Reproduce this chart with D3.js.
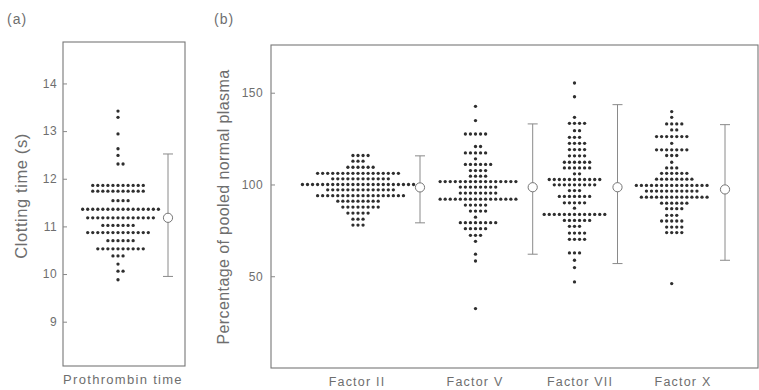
<!DOCTYPE html>
<html>
<head>
<meta charset="utf-8">
<script src="https://cdn.jsdelivr.net/npm/d3@7"></script>
<style>
  html, body { margin: 0; padding: 0; background: #fff; }
  svg { display: block; }
  text { font-family: "Liberation Sans", Arial, sans-serif; fill: #6e6e6e; }
</style>
</head>
<body>
<svg id="chart" width="759" height="390"></svg>
<script>
// ---------------- DATA ----------------
// Panel (a): prothrombin time (s), row values and number of dots per row
const ptValues = [13.42, 13.29, 12.94, 12.63, 12.49, 12.31, 11.86, 11.74, 11.54, 11.36, 11.18, 11.02, 10.87, 10.70, 10.53, 10.38, 10.21, 10.06, 9.88];
const ptCounts = [1, 1, 1, 1, 1, 2, 11, 11, 4, 16, 14, 7, 13, 6, 10, 3, 1, 2, 1];
const ptMean = 11.18, ptLow = 9.95, ptHigh = 12.52;
const ptTicks = [9, 10, 11, 12, 13, 14];

// Panel (b): percentage of pooled normal plasma
const categories = ["Factor II", "Factor V", "Factor VII", "Factor X"];

const factorIIValues = [115.8, 112.7, 109.4, 106.1, 103.1, 100.0, 97.1, 93.9, 90.9, 87.7, 84.4, 81.1, 77.9];
const factorIICounts = [4, 3, 6, 17, 12, 23, 14, 18, 9, 8, 5, 3, 3];

const factorVValues = [142.6, 134.8, 127.5, 120.7, 117.2, 114.0, 110.9, 107.6, 104.5, 101.6, 98.6, 95.3, 92.0, 88.8, 85.5, 82.2, 79.2, 75.9, 72.3, 69.0, 62.0, 58.3, 32.4];
const factorVCounts = [1, 1, 5, 2, 5, 1, 6, 4, 4, 16, 8, 8, 16, 5, 4, 1, 8, 5, 3, 1, 1, 1, 1];

const factorVIIValues = [155.3, 147.8, 136.6, 133.3, 129.3, 125.7, 122.4, 119.0, 115.6, 112.1, 109.0, 105.8, 102.7, 99.8, 96.7, 93.5, 90.0, 87.1, 83.7, 80.4, 77.2, 73.5, 70.1, 62.7, 58.7, 54.7, 46.9];
const factorVIICounts = [1, 1, 1, 4, 2, 3, 4, 4, 4, 6, 6, 2, 11, 9, 3, 7, 5, 1, 13, 6, 3, 4, 4, 3, 1, 1, 1];

const factorXValues = [139.7, 136.6, 133.0, 129.7, 126.1, 122.4, 118.9, 115.8, 112.1, 109.0, 106.1, 102.9, 99.5, 96.4, 93.1, 89.8, 86.8, 83.2, 80.1, 76.8, 73.8, 46.0];
const factorXCounts = [1, 1, 4, 2, 7, 1, 7, 3, 1, 3, 6, 8, 15, 11, 14, 6, 4, 3, 5, 4, 4, 1];

const factorMeans = [98.4, 98.5, 98.5, 97.3];
const factorLows  = [79.1, 62.0, 56.9, 58.7];
const factorHighs = [115.6, 133.0, 143.5, 132.6];
const factorTicks = [50, 100, 150];

// ---------------- DRAWING ----------------
const svg = d3.select("#chart");
const dotColor = "#2e2e2e";
const lineColor = "#8a8a8a";
const frameColor = "#777";
const dotStep = 5.05;   // horizontal spacing of stacked dots
const dotR = 1.65;

function expandRows(values, counts) {
  const pts = [];
  values.forEach((v, r) => {
    const n = counts[r];
    const start = Math.floor((n - 1) / 2);
    for (let i = 0; i < n; i++) pts.push({ v: v, col: i - start });
  });
  return pts;
}

function drawErrorBar(g, x, y, mean, low, high) {
  g.append("line").attr("x1", x).attr("x2", x).attr("y1", y(high)).attr("y2", y(low))
    .attr("stroke", lineColor).attr("stroke-width", 1);
  [low, high].forEach(v => g.append("line")
    .attr("x1", x - 5).attr("x2", x + 5).attr("y1", y(v)).attr("y2", y(v))
    .attr("stroke", lineColor).attr("stroke-width", 1));
  g.append("circle").attr("cx", x).attr("cy", y(mean)).attr("r", 4.6)
    .attr("fill", "#fff").attr("stroke", "#777").attr("stroke-width", 1);
}

function styleAxis(g) {
  g.select(".domain").remove();
  g.selectAll(".tick line").attr("stroke", "#888");
  g.selectAll(".tick text").attr("fill", "#6e6e6e")
    .style("font-family", "'Liberation Sans', Arial, sans-serif")
    .style("font-size", "12px").style("letter-spacing", "0.4px");
}

// ----- Panel (a) -----
const aLeft = 63, aRight = 185, aTop = 42, aBottom = 366;
const yA = d3.scaleLinear().domain([8.07, 14.87]).range([aBottom, aTop]);
const xA = d3.scaleOrdinal().domain(["dots", "bar", "label"]).range([118, 168, 123]);

const gA = svg.append("g");
gA.append("rect").attr("x", aLeft).attr("y", aTop).attr("width", aRight - aLeft).attr("height", aBottom - aTop)
  .attr("fill", "none").attr("stroke", frameColor).attr("stroke-width", 1.1);
gA.append("g").attr("transform", `translate(${aLeft},0)`)
  .call(d3.axisLeft(yA).tickValues(ptTicks).tickFormat(d3.format("d"))
    .tickSizeInner(-4).tickSizeOuter(0).tickPadding(6))
  .call(styleAxis);

gA.selectAll("circle.dot").data(expandRows(ptValues, ptCounts)).join("circle")
  .attr("class", "dot")
  .attr("cx", d => xA("dots") + d.col * dotStep)
  .attr("cy", d => yA(d.v))
  .attr("r", dotR).attr("fill", dotColor);
drawErrorBar(gA, xA("bar"), yA, ptMean, ptLow, ptHigh);

gA.append("text").attr("x", xA("label")).attr("y", 384).attr("text-anchor", "middle")
  .style("font-size", "13px").style("letter-spacing", "1.3px").text("Prothrombin time");
gA.append("text").attr("transform", `translate(27,196) rotate(-90)`)
  .attr("text-anchor", "middle").style("font-size", "16.5px").style("letter-spacing", "0.6px")
  .text("Clotting time (s)");
gA.append("text").attr("x", 7).attr("y", 24).style("font-size", "14px").style("letter-spacing", "1px").text("(a)");

// ----- Panel (b) -----
const bLeft = 271, bRight = 758, bTop = 45, bBottom = 368;
const yB = d3.scaleLinear().domain([0, 176]).range([bBottom, bTop]);
const xDots = d3.scaleOrdinal().domain(categories).range([358, 475.5, 574.5, 671.7]);
const xBars = d3.scaleOrdinal().domain(categories).range([420, 532.7, 617.5, 725]);
const xLabels = d3.scaleOrdinal().domain(categories).range([357, 475, 580, 683]);

const gB = svg.append("g");
gB.append("rect").attr("x", bLeft).attr("y", bTop).attr("width", bRight - bLeft).attr("height", bBottom - bTop)
  .attr("fill", "none").attr("stroke", frameColor).attr("stroke-width", 1.1);
gB.append("g").attr("transform", `translate(${bLeft},0)`)
  .call(d3.axisLeft(yB).tickValues(factorTicks).tickFormat(d3.format("d"))
    .tickSizeInner(-4).tickSizeOuter(0).tickPadding(8))
  .call(styleAxis);

const factorSeries = [
  [factorIIValues, factorIICounts],
  [factorVValues, factorVCounts],
  [factorVIIValues, factorVIICounts],
  [factorXValues, factorXCounts]
];

categories.forEach((cat, i) => {
  const pts = expandRows(factorSeries[i][0], factorSeries[i][1]);
  gB.append("g").selectAll("circle").data(pts).join("circle")
    .attr("cx", d => xDots(cat) + d.col * dotStep)
    .attr("cy", d => yB(d.v))
    .attr("r", dotR).attr("fill", dotColor);
  drawErrorBar(gB, xBars(cat), yB, factorMeans[i], factorLows[i], factorHighs[i]);
  gB.append("text").attr("x", xLabels(cat)).attr("y", 386).attr("text-anchor", "middle")
    .style("font-size", "12.5px").style("letter-spacing", "1.2px").text(cat);
});

gB.append("text").attr("transform", `translate(229,207) rotate(-90)`)
  .attr("text-anchor", "middle").style("font-size", "16px").style("letter-spacing", "0.4px")
  .text("Percentage of pooled normal plasma");
gB.append("text").attr("x", 214).attr("y", 24).style("font-size", "14px").style("letter-spacing", "1px").text("(b)");
</script>
</body>
</html>
